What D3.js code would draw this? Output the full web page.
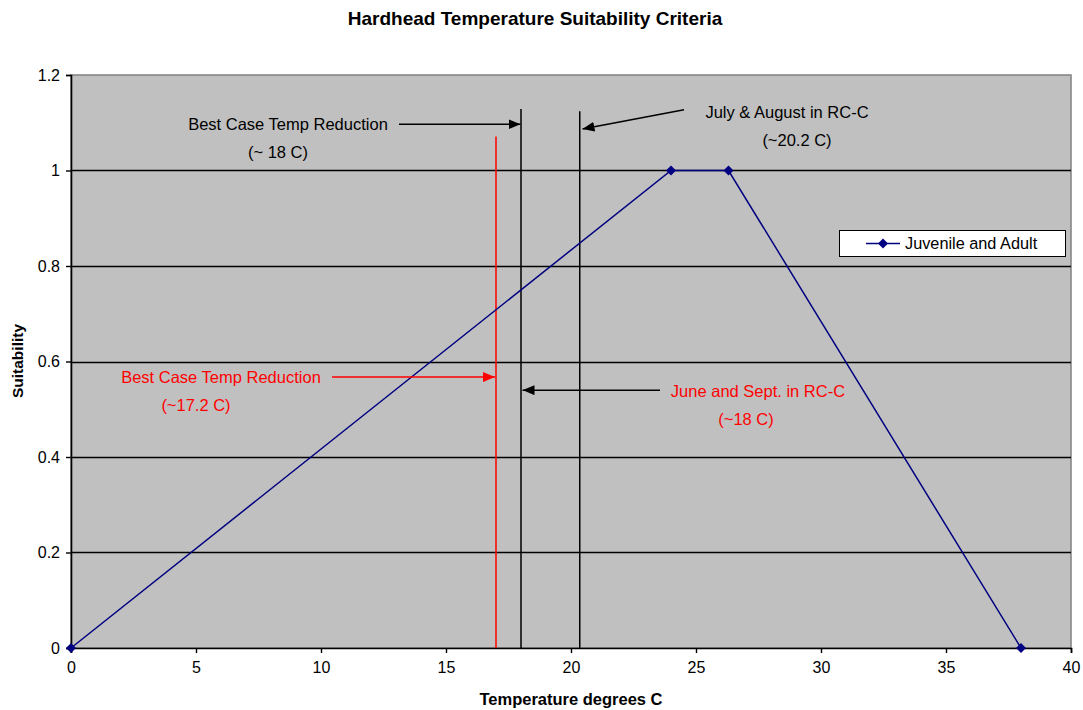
<!DOCTYPE html>
<html>
  <head>
    <style>
      body { margin: 0; background: #fff; }
      text { font-family: "Liberation Sans", Arial, sans-serif; }
    </style>
  </head>
  <body>
    <svg class="chart" width="1083" height="710"></svg>
    <script src="https://d3js.org/d3.v7.min.js"></script>
    <script>
      // series: Juvenile and Adult
      var temps = [0, 24, 26.3, 38];
      var suitability = [0, 1, 1, 0];
      var xTicks = [0, 5, 10, 15, 20, 25, 30, 35, 40];
      var yTicks = [0, 0.2, 0.4, 0.6, 0.8, 1, 1.2];

      // reference lines: temperature and top of line
      var refTemps = [17, 18, 20.35];
      var refTops = [1.071, 1.129, 1.124];
      var refColors = ["#ff0000", "#000", "#000"];

      // annotation labels [x, y] in data units
      var labelText = ["Best Case Temp Reduction", "(~ 18 C)", "July & August in RC-C", "(~20.2 C)",
        "Best Case Temp Reduction", "(~17.2 C)", "June and Sept. in RC-C", "(~18 C)"];
      var labelX = [8.68, 8.28, 28.64, 29.04, 6.0, 5.0, 27.48, 27.0];
      var labelY = [1.097, 1.039, 1.123, 1.064, 0.5675, 0.509, 0.538, 0.48];
      var labelColor = ["#000", "#000", "#000", "#000", "#ff0000", "#ff0000", "#ff0000", "#ff0000"];

      // arrows [x1, y1, x2, y2] (head at x2, y2)
      var arrows = [
        [13.12, 1.097, 17.98, 1.097, "#000"],
        [24.52, 1.127, 20.46, 1.087, "#000"],
        [10.44, 0.5675, 16.96, 0.5675, "#ff0000"],
        [23.56, 0.54, 18.06, 0.54, "#000"]
      ];

      var margin = { left: 71, top: 75 },
        width = 1000,
        height = 573;

      var svg = d3.select(".chart");

      var defs = svg.append("defs");
      ["#000", "#ff0000"].forEach(function (c, i) {
        defs.append("marker")
          .attr("id", "head" + i)
          .attr("viewBox", "0 0 12 10")
          .attr("refX", 12).attr("refY", 5)
          .attr("markerWidth", 12).attr("markerHeight", 10)
          .attr("markerUnits", "userSpaceOnUse")
          .attr("orient", "auto")
          .append("path").attr("d", "M0,0 L12,5 L0,10 Z").attr("fill", c);
      });

      var x = d3.scaleLinear().domain([0, 40]).range([0, width]);
      var y = d3.scaleLinear().domain([0, 1.2]).range([height, 0]);

      var g = svg.append("g").attr("transform", "translate(" + margin.left + "," + margin.top + ")");

      g.append("rect").attr("width", width).attr("height", height)
        .attr("fill", "#c0c0c0").attr("stroke", "#808080").attr("stroke-width", 1.5);

      // gridlines
      g.selectAll(".grid").data(yTicks.filter(function (d) { return d > 0 && d < 1.2; }))
        .enter().append("line")
        .attr("x1", 0).attr("x2", width)
        .attr("y1", function (d) { return Math.round(y(d)) + 0.5; })
        .attr("y2", function (d) { return Math.round(y(d)) + 0.5; })
        .attr("stroke", "#000").attr("stroke-width", 1.4);

      // axes
      var yAxis = g.append("g").call(d3.axisLeft(y).tickValues(yTicks).tickSize(5).tickPadding(6)
        .tickFormat(function (d) { return d; }));
      var xAxis = g.append("g").attr("transform", "translate(0," + height + ")")
        .call(d3.axisBottom(x).tickValues(xTicks).tickSize(5).tickPadding(9));
      [xAxis, yAxis].forEach(function (a) {
        a.selectAll("path").attr("stroke", "#000").attr("stroke-width", 1.6);
        a.selectAll("line").attr("stroke", "#000").attr("stroke-width", 1.4);
        a.selectAll("text").attr("font-size", 16).attr("fill", "#000")
          .style("font-family", "'Liberation Sans', Arial, sans-serif");
      });

      // reference lines
      g.selectAll(".ref").data(refTemps).enter().append("line")
        .attr("x1", function (d) { return x(d); }).attr("x2", function (d) { return x(d); })
        .attr("y1", function (d, i) { return y(refTops[i]); }).attr("y2", y(0))
        .attr("stroke", function (d, i) { return refColors[i]; }).attr("stroke-width", 1.5);

      // series
      var pts = temps.map(function (t, i) { return [t, suitability[i]]; });
      g.append("path").datum(pts)
        .attr("fill", "none").attr("stroke", "#000080").attr("stroke-width", 1.5)
        .attr("d", d3.line().x(function (d) { return x(d[0]); }).y(function (d) { return y(d[1]); }));
      var diamond = d3.symbol().type(d3.symbolDiamond2).size(64);
      g.selectAll(".pt").data(pts).enter().append("path")
        .attr("d", diamond)
        .attr("transform", function (d) { return "translate(" + x(d[0]) + "," + y(d[1]) + ")"; })
        .attr("fill", "#000080");

      // arrows
      g.selectAll(".arrow").data(arrows).enter().append("line")
        .attr("x1", function (d) { return x(d[0]); }).attr("y1", function (d) { return y(d[1]); })
        .attr("x2", function (d) { return x(d[2]); }).attr("y2", function (d) { return y(d[3]); })
        .attr("stroke", function (d) { return d[4]; }).attr("stroke-width", 1.5)
        .attr("marker-end", function (d) { return d[4] === "#000" ? "url(#head0)" : "url(#head1)"; });

      // annotation text
      g.selectAll(".lbl").data(labelText).enter().append("text")
        .attr("x", function (d, i) { return x(labelX[i]); })
        .attr("y", function (d, i) { return y(labelY[i]); })
        .attr("dy", "0.35em").attr("text-anchor", "middle")
        .attr("font-size", 16.5)
        .attr("fill", function (d, i) { return labelColor[i]; })
        .text(function (d) { return d; });

      // legend
      var leg = svg.append("g").attr("transform", "translate(839,230)");
      leg.append("rect").attr("x", 0.5).attr("y", 0.5).attr("width", 226).attr("height", 26)
        .attr("fill", "#fff").attr("stroke", "#000").attr("stroke-width", 1);
      leg.append("line").attr("x1", 27).attr("x2", 61).attr("y1", 13.5).attr("y2", 13.5)
        .attr("stroke", "#000080").attr("stroke-width", 1.5);
      leg.append("path").attr("d", diamond).attr("transform", "translate(44,13.5)").attr("fill", "#000080");
      leg.append("text").attr("x", 66).attr("y", 13.5).attr("dy", "0.35em")
        .attr("font-size", 16.3).text("Juvenile and Adult");

      // titles
      svg.append("text").attr("x", 535).attr("y", 18).attr("dy", "0.35em").attr("text-anchor", "middle")
        .attr("font-size", 19).attr("font-weight", "bold").text("Hardhead Temperature Suitability Criteria");
      svg.append("text").attr("x", 571).attr("y", 699).attr("dy", "0.35em").attr("text-anchor", "middle")
        .attr("font-size", 16.5).attr("font-weight", "bold").text("Temperature degrees C");
      svg.append("text").attr("transform", "translate(18,361) rotate(-90)").attr("dy", "0.35em")
        .attr("text-anchor", "middle").attr("font-size", 15.5).attr("font-weight", "bold").text("Suitability");
    </script>
  </body>
</html>
